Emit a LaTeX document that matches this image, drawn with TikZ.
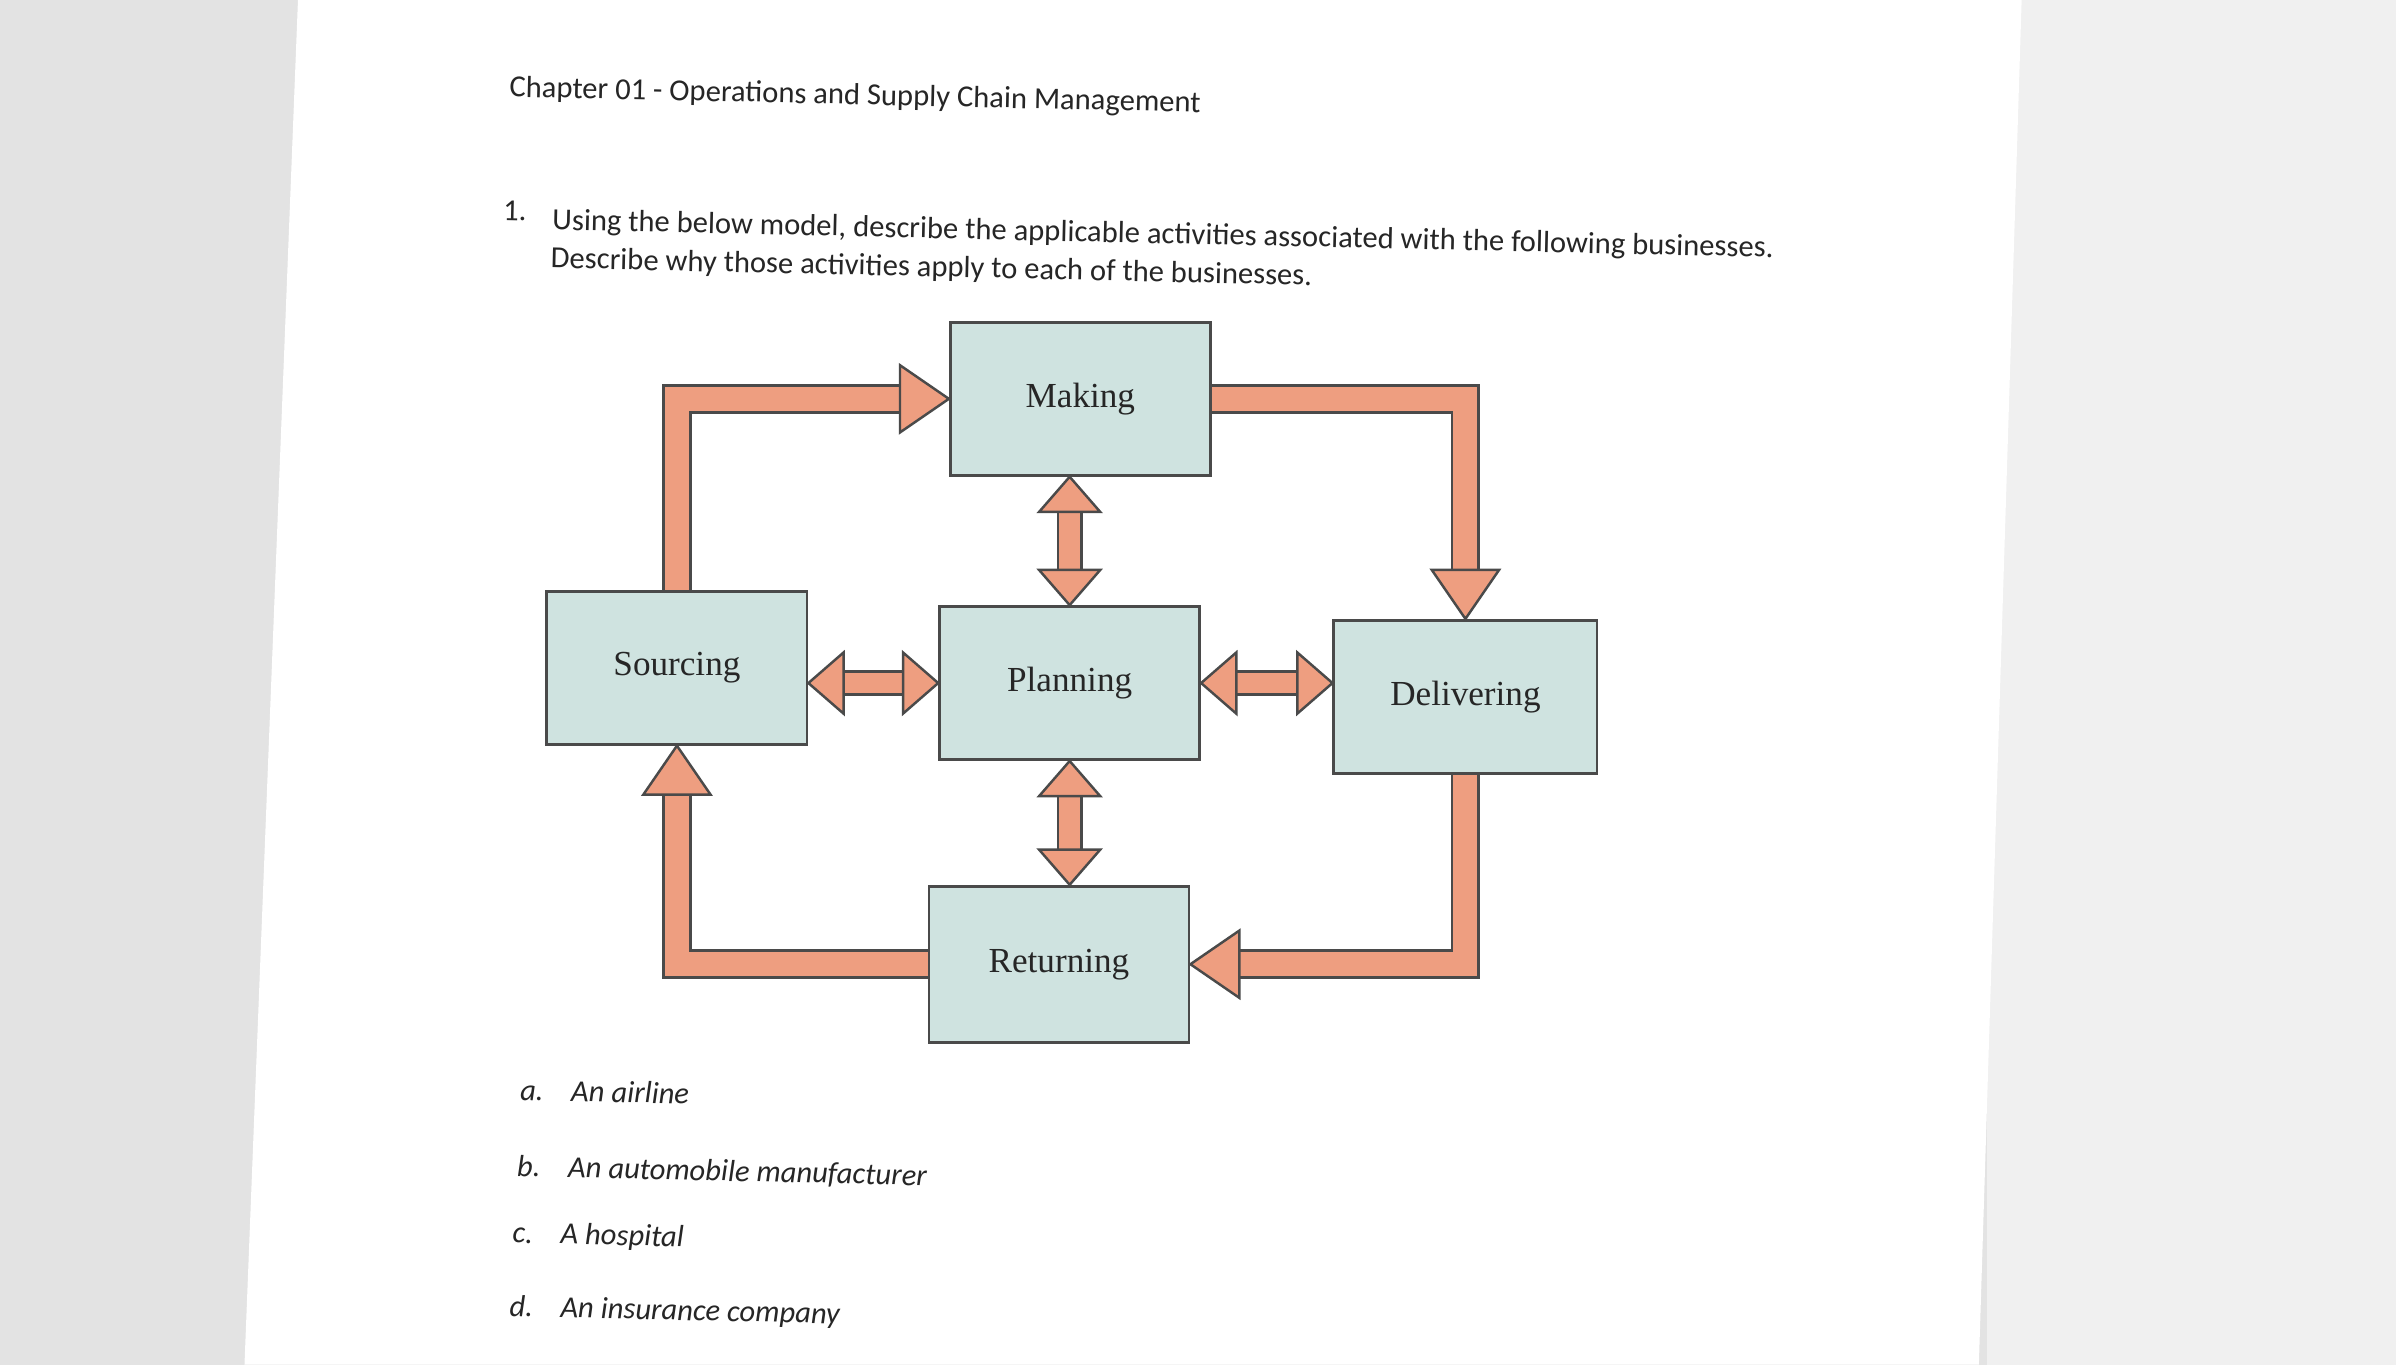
\documentclass[tikz,border=0pt]{standalone}
\usepackage{fontspec}
\setmainfont{Carlito}
\newfontfamily\boxfont{Liberation Serif}
\usetikzlibrary{calc}
\definecolor{boxfill}{HTML}{CFE3E0}
\definecolor{arr}{HTML}{EE9E80}
\definecolor{edge}{HTML}{4A4A4A}
\tikzset{
 blk/.style={draw=edge,line width=0.8pt,fill=boxfill,minimum width=2.6cm,minimum height=1.53cm,font=\boxfont\fontsize{10}{12}\selectfont,text=black!85},
 shaftout/.style={draw=edge,line width=8.4pt,line join=miter},
 shaftin/.style={draw=arr,line width=6.8pt,line join=miter},
 headst/.style={fill=arr,draw=edge,line width=0.7pt,line join=miter},
 txt/.style={anchor=west,inner sep=0pt,font=\fontsize{8.7}{10}\selectfont,text=black!85,rotate=-1.3},
 itx/.style={txt,font=\fontsize{8.7}{10}\selectfont\itshape}
}
\newcommand\fhead[2]{\draw[headst,shift={(#1)},rotate=#2] (0,0) -- (-32,22) -- (-32,-22) -- cycle;}
\newcommand\shead[2]{\draw[headst,shift={(#1)},rotate=#2] (0,0) -- (-23,20) -- (-23,-20) -- cycle;}
\newcommand\dshaft[2]{\draw[shaftout,line width=7.4pt,shorten <=9pt,shorten >=9pt] (#1) -- (#2);
 \draw[shaftin,line width=5.9pt,shorten <=9pt,shorten >=9pt] (#1) -- (#2);}
\begin{document}
\begin{tikzpicture}[x=0.01528cm,y=0.01528cm]
\useasboundingbox (0,0) rectangle (1568,893);
\fill[gray!22] (0,0) rectangle (1568,893);
\fill[gray!12] (1300,0) rectangle (1568,893);
\fill[white] (195,893) -- (1323,893) -- (1295,0) -- (160,0) -- cycle;

\node[txt] (title) at (333,835) {Chapter 01 - Operations and Supply Chain Management};
\node[txt] (n1) at (329,755) {1.};
\node[txt] (q1) at (361,748) {Using the below model, describe the applicable activities associated with the following businesses.};
\node[txt] (q2) at (360,723) {Describe why those activities apply to each of the businesses.};

\node[blk] (M) at (707,632) {Making};
\node[blk] (S) at (443,456) {Sourcing};
\node[blk] (P) at (700,446) {Planning};
\node[blk,minimum width=2.63cm] (D) at (959,437) {Delivering};
\node[blk,minimum height=1.56cm] (R) at (693,262) {Returning};

% loop arrows
\foreach \st in {shaftout,shaftin}{
 \draw[\st] (S.north) |- ($(M.west)+(-30,0)$);
 \draw[\st] (M.east) -| ($(D.north)+(0,30)$);
 \draw[\st] (D.south) |- ($(R.east)+(30,0)$);
 \draw[\st] (R.west) -| ($(S.south)+(0,-30)$);
}
\fhead{M.west}{0}
\fhead{D.north}{-90}
\fhead{R.east}{180}
\fhead{S.south}{90}

% double arrows
\coordinate (ms) at (M.south -| P.north);
\coordinate (se) at (S.east |- P.west);
\coordinate (dw) at (D.west |- P.east);
\coordinate (rn) at (R.north -| P.south);
\dshaft{ms}{P.north}
\shead{ms}{90}\shead{P.north}{-90}
\dshaft{se}{P.west}
\shead{se}{180}\shead{P.west}{0}
\dshaft{P.east}{dw}
\shead{P.east}{180}\shead{dw}{0}
\dshaft{P.south}{rn}
\shead{P.south}{90}\shead{rn}{-90}

\node[itx] (a) at (340,180) {a.\hspace{0.9em}An airline};
\node[itx] (b) at (338,129) {b.\hspace{0.9em}An automobile manufacturer};
\node[itx] (c) at (335,85) {c.\hspace{0.9em}A hospital};
\node[itx] (d) at (333,37) {d.\hspace{0.9em}An insurance company};
\end{tikzpicture}
\end{document}
